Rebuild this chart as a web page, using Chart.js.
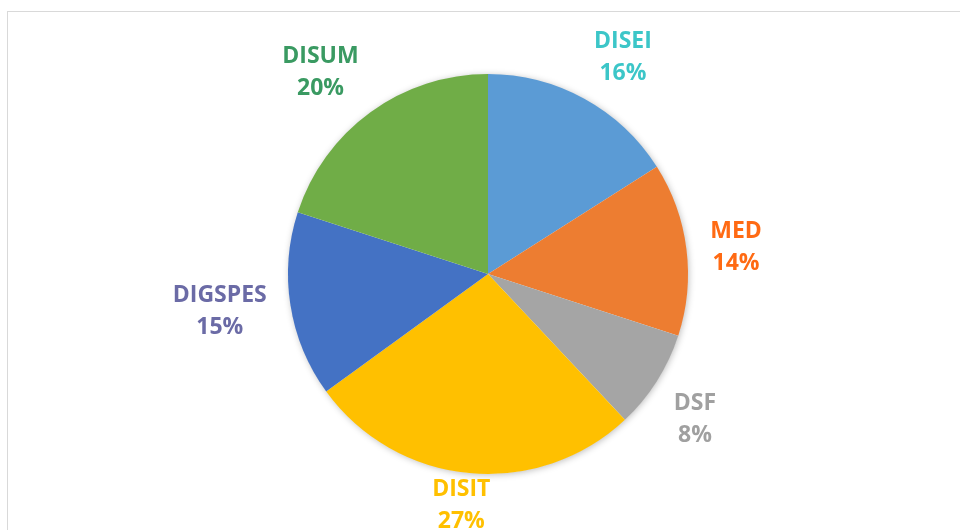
<!DOCTYPE html>
<html>
<head>
<meta charset="utf-8">
<script src="https://cdn.jsdelivr.net/npm/chart.js@4"></script>
<style>
  html, body { margin: 0; padding: 0; background: #fff; }
  #wrap { position: relative; width: 960px; height: 530px; overflow: hidden; }
  #frame { position: absolute; left: 7px; top: 11px; width: 1000px; height: 600px;
           border-left: 1px solid #d9d9d9; border-top: 1px solid #d9d9d9; }
  #pie { position: absolute; left: 0; top: 0; }
</style>
</head>
<body>
<div id="wrap">
  <div id="frame"></div>
  <canvas id="pie" width="960" height="530"></canvas>
</div>
<script>
const LABELS = ['DISEI', 'MED', 'DSF', 'DISIT', 'DIGSPES', 'DISUM'];
const SHARES = [16, 14, 8, 27, 15, 20];
const SLICE_COLORS = ['#5B9BD5', '#ED7D31', '#A5A5A5', '#FFC000', '#4472C4', '#70AD47'];
const LABEL_COLORS = ['#3CC6C8', '#FF6A13', '#A0A0A0', '#FFC000', '#6B6BA6', '#3A9A62'];

const FONT = 'bold 23px "Open Sans", sans-serif';
const LINE_GAP = 32;   // distance between the name and the percent line
const CORNER_GAP = 20; // rim to label corner, for diagonal labels
const SIDE_GAP = 24;   // rim to label side, for labels left/right of the pie
const BOX_H = 52;      // height of a label box

// soft glow behind the whole pie
const pieShadow = {
  id: 'pieShadow',
  beforeDatasetsDraw(chart) {
    const arc = chart.getDatasetMeta(0).data[0];
    if (!arc) return;
    const ctx = chart.ctx;
    ctx.save();
    ctx.shadowColor = 'rgba(0,0,0,0.28)';
    ctx.shadowBlur = 7;
    ctx.shadowOffsetX = 1;
    ctx.shadowOffsetY = 1;
    ctx.fillStyle = '#ffffff';
    ctx.beginPath();
    ctx.arc(arc.x, arc.y, arc.outerRadius - 0.5, 0, Math.PI * 2);
    ctx.fill();
    ctx.restore();
  }
};

// "outside end" labels: the box corner (or side) facing the pie sits on the mid-angle ray
const outsideLabels = {
  id: 'outsideLabels',
  afterDatasetsDraw(chart) {
    const ctx = chart.ctx;
    const total = SHARES.reduce((s, v) => s + v, 0);
    const clamp1 = v => Math.max(-1, Math.min(1, v));
    ctx.save();
    ctx.font = FONT;
    ctx.textAlign = 'center';
    ctx.textBaseline = 'middle';
    chart.getDatasetMeta(0).data.forEach((arc, i) => {
      const mid = (arc.startAngle + arc.endAngle) / 2;
      const cos = Math.cos(mid), sin = Math.sin(mid);
      const pct = Math.round(SHARES[i] / total * 100) + '%';
      const w = Math.max(ctx.measureText(LABELS[i]).width, ctx.measureText(pct).width);
      const side = Math.abs(sin) < 0.3;
      const d = arc.outerRadius + (side ? SIDE_GAP : CORNER_GAP);
      const cx = arc.x + cos * d + clamp1(cos * 2.2) * w / 2;
      let cy = arc.y + sin * d + (side ? 0 : Math.sign(sin) * BOX_H / 2);
      cy = Math.min(Math.max(cy, BOX_H / 2), chart.height - 27);
      ctx.fillStyle = LABEL_COLORS[i];
      ctx.fillText(LABELS[i], cx, cy - LINE_GAP / 2 + 2);
      ctx.fillText(pct, cx, cy + LINE_GAP / 2 + 2);
    });
    ctx.restore();
  }
};

new Chart(document.getElementById('pie'), {
  type: 'pie',
  data: {
    labels: LABELS,
    datasets: [{
      data: SHARES,
      backgroundColor: SLICE_COLORS,
      borderWidth: 0,
      hoverOffset: 0,
      offset: 0
    }]
  },
  options: {
    responsive: false,
    animation: false,
    devicePixelRatio: 1,
    layout: { padding: { top: 74, bottom: 56, left: 16, right: 0 } },
    plugins: {
      legend: { display: false },
      tooltip: { enabled: false }
    }
  },
  plugins: [pieShadow, outsideLabels]
});
</script>
</body>
</html>
